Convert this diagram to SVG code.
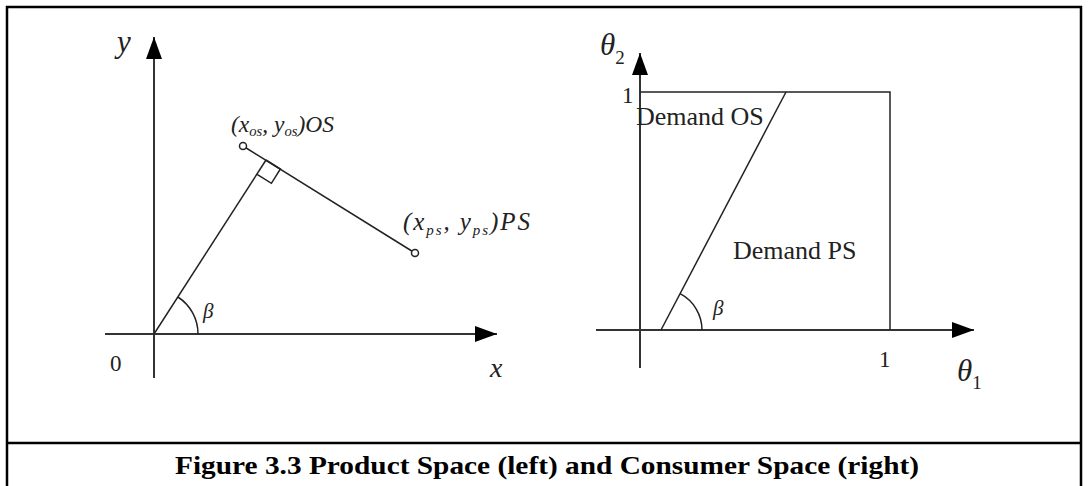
<svg xmlns="http://www.w3.org/2000/svg" width="1088" height="486" viewBox="0 0 1088 486">
<defs>
<style>
.frame{stroke:#000;stroke-width:2.5;fill:none}
.axis{stroke:#333;stroke-width:2;fill:none}
.ln{stroke:#222;stroke-width:1.5;fill:none}
.pt{stroke:#222;stroke-width:1.5;fill:#fff}
.t{font-family:"Liberation Serif","Times New Roman",serif;fill:#222}
.it{font-style:italic}
.cap{font-family:"Liberation Serif","Times New Roman",serif;font-weight:bold;fill:#000}
</style>
<marker id="ah" viewBox="0 0 22 16" refX="22" refY="8" markerWidth="22" markerHeight="16" markerUnits="userSpaceOnUse" orient="auto">
<path d="M0,0 L22,8 L0,16 Z" fill="#000"/>
</marker>
</defs>
<rect width="1088" height="486" fill="#fff"/>
<g id="frame">
<path class="frame" d="M7,486 V7 H1081 V486"/>
<line class="frame" x1="7" y1="443" x2="1081" y2="443"/>
</g>
<g id="product-space">
<g id="left-axes">
<line class="axis" x1="154" y1="378" x2="154" y2="37" marker-end="url(#ah)"/>
<line class="axis" x1="105" y1="334" x2="497" y2="334" marker-end="url(#ah)"/>
<text class="t it" x="117" y="52" font-size="31">y</text>
<text class="t it" x="490" y="377" font-size="28">x</text>
<text class="t" x="110" y="371" font-size="23">0</text>
</g>
<g id="left-lines">
<line class="ln" x1="154" y1="334" x2="266" y2="160"/>
<line class="ln" x1="243" y1="146" x2="415" y2="253"/>
<path class="ln" d="M266,160 L280.4,169 L271.4,183.3 L257.1,174.3"/>
<path class="ln" d="M198,334 A44,44 0 0 0 177.9,297"/>
<text class="t it" x="203" y="318" font-size="21">β</text>
</g>
<g id="os-point">
<circle class="pt" cx="243" cy="146" r="3.5"/>
<text class="t it" x="231" y="132" font-size="24" textLength="103" lengthAdjust="spacingAndGlyphs">(x<tspan font-size="15" dy="4">os</tspan><tspan dy="-4">, y</tspan><tspan font-size="15" dy="4">os</tspan><tspan dy="-4">)OS</tspan></text>
</g>
<g id="ps-point">
<circle class="pt" cx="415" cy="253" r="3.5"/>
<text class="t it" x="403" y="230" font-size="25" textLength="127" lengthAdjust="spacing">(x<tspan font-size="15" dy="5">ps</tspan><tspan dy="-5">, y</tspan><tspan font-size="15" dy="5">ps</tspan><tspan dy="-5">)PS</tspan></text>
</g>
</g>
<g id="consumer-space">
<g id="right-axes">
<line class="axis" x1="640" y1="368" x2="640" y2="53" marker-end="url(#ah)"/>
<line class="axis" x1="596" y1="330" x2="974" y2="330" marker-end="url(#ah)"/>
<text class="t it" x="600" y="55" font-size="31">θ<tspan font-style="normal" font-size="19" dy="9">2</tspan></text>
<text class="t it" x="957" y="381" font-size="31">θ<tspan font-style="normal" font-size="19" dy="8">1</tspan></text>
<text class="t" x="622" y="103" font-size="23">1</text>
<text class="t" x="879" y="367" font-size="23">1</text>
</g>
<g id="unit-square">
<path class="ln" d="M640,92 H890 V330"/>
<line class="ln" x1="661" y1="330" x2="786" y2="92"/>
<path class="ln" d="M702,330 A41,41 0 0 0 680.1,293.7"/>
<text class="t it" x="713" y="315" font-size="21">β</text>
</g>
<g id="demand-os">
<text class="t" x="636" y="125" font-size="26">Demand OS</text>
</g>
<g id="demand-ps">
<text class="t" x="733" y="259" font-size="26">Demand PS</text>
</g>
</g>
<g id="caption">
<text class="cap" x="175" y="474" font-size="26" textLength="744" lengthAdjust="spacingAndGlyphs">Figure 3.3 Product Space (left) and Consumer Space (right)</text>
</g>
</svg>
